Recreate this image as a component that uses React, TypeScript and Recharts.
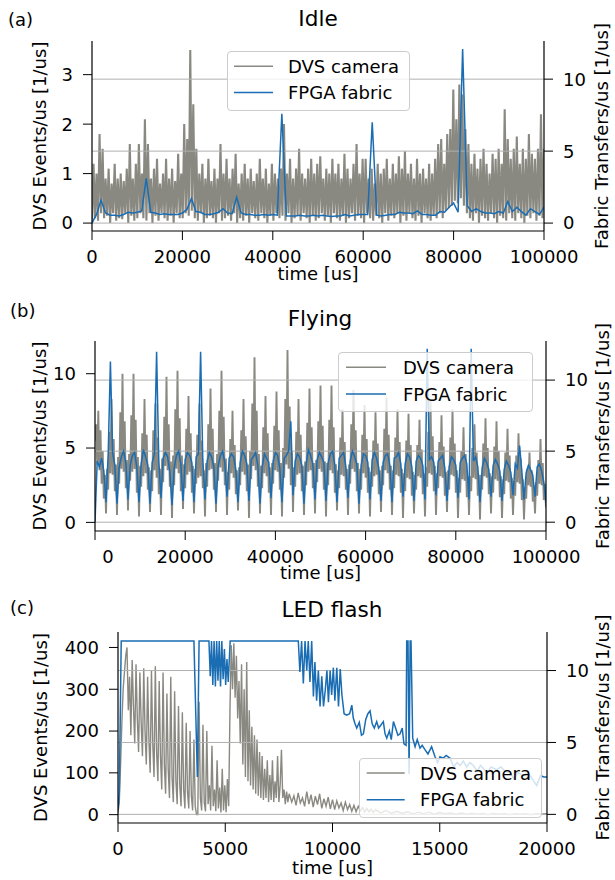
import React from 'react';
import { LineChart, Line, XAxis, YAxis, ReferenceLine } from 'recharts';

const FONT = 'DejaVu Sans, sans-serif';
const GRAY = '#8a8981';
const BLUE = '#1a6db3';
const GRID = '#b0b0b0';

const SERIES_NAMES = ['DVS camera', 'FPGA fabric'];

// (a) Idle, 0..100000 us
const IDLE_X_TICKS = [0, 20000, 40000, 60000, 80000, 100000];
const IDLE_LEFT_TICKS = [0, 1, 2, 3];
const IDLE_DVS = [
  0.0, 1.2, 0.1, 1.0, 0.05, 1.8, 0.2, 1.5, 0.1, 0.9,
  0.15, 1.1, 0.0, 0.8, 0.2, 1.2, 0.05, 0.9, 0.1, 1.0,
  0.08, 0.85, 0.2, 1.1, 0.0, 1.6, 0.15, 0.9, 0.05, 1.2,
  0.1, 1.6, 0.2, 1.0, 0.1, 2.1, 0.05, 1.6, 0.2, 0.9,
  0.0, 1.1, 0.15, 1.3, 0.05, 0.8, 0.2, 1.0, 0.1, 1.3,
  0.05, 0.9, 0.15, 1.1, 0.0, 0.85, 0.2, 1.4, 0.1, 1.0,
  0.1, 2.0, 0.2, 1.7, 0.15, 3.5, 0.25, 2.4, 0.1, 1.5,
  0.05, 1.0, 0.2, 1.2, 0.0, 0.9, 0.1, 1.3, 0.15, 0.85,
  0.1, 1.1, 0.0, 0.9, 0.2, 1.6, 0.05, 1.0, 0.1, 1.3,
  0.15, 0.9, 0.05, 1.1, 0.2, 1.4, 0.0, 0.8, 0.1, 1.0,
  0.05, 1.2, 0.15, 0.9, 0.0, 1.1, 0.2, 0.85, 0.1, 1.0,
  0.05, 1.3, 0.2, 0.9, 0.1, 1.1, 0.0, 0.8, 0.15, 1.2,
  0.05, 1.0, 0.2, 0.9, 0.1, 1.1, 0.15, 2.0, 0.05, 1.0,
  0.2, 1.3, 0.0, 0.9, 0.1, 1.1, 0.15, 1.5, 0.05, 1.0,
  0.2, 0.9, 0.1, 1.1, 0.0, 1.3, 0.15, 1.0, 0.05, 1.2,
  0.1, 1.35, 0.2, 0.9, 0.05, 1.1, 0.15, 1.0, 0.0, 1.3,
  0.2, 1.0, 0.1, 1.2, 0.05, 0.9, 0.15, 1.4, 0.0, 1.1,
  0.1, 0.9, 0.2, 1.2, 0.05, 1.6, 0.15, 1.0, 0.1, 1.3,
  0.0, 1.3, 0.2, 0.9, 0.1, 1.1, 0.05, 0.8, 0.15, 1.2,
  0.1, 1.0, 0.0, 1.1, 0.2, 1.3, 0.05, 0.9, 0.15, 1.2,
  0.1, 1.0, 0.2, 1.35, 0.0, 1.1, 0.15, 1.45, 0.05, 1.0,
  0.2, 1.2, 0.1, 0.9, 0.05, 1.3, 0.15, 1.0, 0.0, 1.1,
  0.2, 0.9, 0.1, 1.2, 0.05, 1.0, 0.15, 1.3, 0.1, 1.6,
  0.2, 1.7, 0.1, 1.2, 0.25, 1.8, 0.3, 1.9, 0.35, 2.7,
  0.45, 2.1, 0.4, 2.8, 0.5, 2.6, 0.35, 1.9, 0.2, 1.6,
  0.1, 1.2, 0.05, 1.4, 0.2, 1.1, 0.0, 1.3, 0.15, 1.5,
  0.1, 1.2, 0.05, 1.0, 0.2, 1.4, 0.1, 1.3, 0.0, 1.5,
  0.15, 1.2, 0.1, 2.3, 0.05, 1.7, 0.2, 1.3, 0.1, 1.5,
  0.05, 1.75, 0.2, 1.2, 0.1, 1.5, 0.0, 1.3, 0.15, 1.8,
  0.1, 1.4, 0.2, 1.3, 0.05, 1.5, 0.15, 2.2, 0.1, 1.5,
];
const IDLE_FPGA = [
  0.0, 0.6, 1.6, 0.7, 0.55, 0.55, 0.5, 0.6, 0.75, 0.7,
  0.75, 0.85, 3.1, 0.75, 0.7, 0.6, 0.65, 0.6, 0.6, 0.6,
  0.7, 0.95, 1.7, 0.8, 0.75, 0.6, 0.6, 0.65, 0.75, 1.0,
  0.7, 0.65, 1.8, 0.7, 0.6, 0.6, 0.55, 0.55, 0.6, 0.55,
  0.6, 0.55, 7.6, 0.5, 0.5, 0.5, 0.55, 0.5, 0.5, 0.55,
  0.5, 0.55, 0.5, 0.45, 0.5, 0.5, 0.6, 0.5, 0.55, 0.6,
  0.6, 0.6, 7.0, 0.55, 0.5, 0.55, 0.6, 0.6, 0.75, 0.7,
  0.7, 0.65, 0.85, 0.6, 0.6, 0.55, 0.55, 0.8, 0.75, 1.1,
  1.4, 0.75, 12.1, 1.2, 0.8, 1.0, 0.8, 0.7, 0.7, 0.65,
  0.8, 0.7, 1.5, 0.8, 1.1, 0.8, 0.55, 1.0, 0.8, 0.6,
  1.1,
];

// (b) Flying, 0..100000 us
const FLY_LEFT_TICKS = [0, 5, 10];
const FLY_DVS = [
  5.5, 6.6, 3.9, 7.5, 3.5, 6.2, 2.6, 4.8, 1.6, 3.2,
  0.6, 3.6, 2.2, 6.1, 3.3, 8.3, 3.2, 5.6, 2.1, 3.9,
  0.5, 4.4, 2.6, 7.4, 3.6, 10.0, 3.4, 6.8, 2.3, 4.2,
  0.8, 4.6, 2.8, 7.2, 3.4, 10.0, 3.6, 6.9, 2.0, 4.4,
  0.4, 3.8, 2.4, 6.0, 3.1, 8.3, 3.3, 5.9, 2.2, 3.7,
  0.7, 3.5, 2.1, 6.2, 3.5, 8.0, 3.0, 5.7, 1.9, 3.6,
  0.5, 4.3, 2.7, 7.1, 3.8, 9.8, 3.5, 6.6, 2.4, 4.1,
  0.3, 4.5, 2.5, 7.6, 3.6, 10.2, 3.3, 7.0, 2.1, 4.5,
  0.9, 3.9, 2.3, 6.3, 3.2, 8.5, 3.4, 6.0, 2.0, 3.8,
  0.6, 3.6, 2.6, 5.9, 3.0, 8.0, 3.1, 5.5, 2.3, 3.5,
  0.4, 4.0, 2.4, 6.6, 3.5, 9.0, 3.6, 6.3, 2.2, 4.0,
  0.7, 4.6, 2.8, 7.5, 3.7, 10.2, 3.4, 7.1, 2.5, 4.3,
  0.5, 3.4, 2.2, 5.6, 3.3, 7.5, 3.0, 5.2, 1.9, 3.5,
  0.8, 3.7, 2.5, 6.2, 3.4, 8.3, 3.2, 5.8, 2.1, 3.9,
  0.3, 4.8, 2.9, 8.0, 3.8, 11.1, 3.5, 7.5, 2.4, 4.6,
  0.6, 3.8, 2.3, 6.4, 3.3, 8.5, 3.1, 6.0, 2.0, 3.7,
  0.5, 4.0, 2.6, 6.5, 3.5, 8.8, 3.4, 6.2, 2.2, 4.0,
  0.4, 5.0, 3.0, 8.3, 3.9, 11.6, 3.6, 7.8, 2.5, 4.7,
  0.7, 3.7, 2.4, 6.1, 3.2, 8.3, 3.3, 5.9, 2.1, 3.8,
  0.5, 4.1, 2.5, 6.7, 3.4, 9.0, 3.5, 6.4, 2.3, 4.0,
  0.6, 4.2, 2.7, 6.8, 3.6, 9.2, 3.4, 6.5, 2.2, 4.1,
  0.4, 4.0, 2.5, 6.9, 3.5, 9.2, 3.3, 6.4, 2.0, 3.9,
  0.8, 3.5, 2.3, 5.7, 3.2, 7.6, 3.1, 5.4, 2.2, 3.6,
  0.5, 3.9, 2.6, 6.6, 3.6, 8.9, 3.4, 6.2, 2.1, 4.0,
  0.6, 3.6, 2.2, 5.9, 3.3, 7.9, 3.0, 5.6, 2.0, 3.7,
  0.4, 3.4, 2.4, 5.5, 3.1, 7.4, 3.2, 5.3, 1.9, 3.5,
  0.7, 3.8, 2.5, 6.3, 3.5, 8.4, 3.3, 5.9, 2.2, 3.8,
  0.5, 3.5, 2.3, 5.7, 3.2, 7.6, 3.1, 5.4, 2.0, 3.6,
  0.3, 3.3, 2.1, 5.5, 3.0, 7.3, 2.9, 5.2, 1.8, 3.4,
  0.6, 3.2, 2.2, 5.2, 3.1, 6.9, 3.0, 4.9, 1.9, 3.3,
  0.4, 3.7, 2.4, 6.1, 3.3, 8.2, 3.2, 5.8, 2.1, 3.8,
  0.5, 3.3, 2.3, 5.4, 3.1, 7.2, 3.0, 5.1, 1.8, 3.4,
  0.7, 3.5, 2.2, 5.7, 3.2, 7.6, 3.1, 5.3, 2.0, 3.5,
  0.3, 3.0, 2.0, 4.8, 2.9, 6.4, 2.8, 4.6, 1.7, 3.1,
  0.5, 3.1, 2.1, 5.0, 3.0, 6.6, 2.9, 4.7, 1.8, 3.2,
  0.2, 3.2, 2.2, 5.3, 3.1, 7.0, 3.0, 5.0, 1.9, 3.3,
  0.6, 3.1, 2.0, 5.1, 2.9, 6.8, 2.8, 4.8, 1.7, 3.1,
  0.3, 2.9, 1.9, 4.7, 2.8, 6.3, 2.7, 4.5, 1.6, 3.0,
  0.5, 2.8, 1.8, 4.5, 2.7, 6.0, 2.6, 4.3, 1.5, 2.9,
  0.2, 2.4, 1.6, 3.6, 2.5, 4.7, 2.4, 3.5, 1.4, 2.5,
  0.6, 2.7, 1.8, 4.2, 2.6, 5.6, 2.5, 4.0, 1.5, 2.6,
  1.0,
];
const FLY_FPGA = [
  0.0, 4.3, 3.9, 4.5, 3.6,
  1.4, 4.8, 11.3, 4.9, 4.0,
  1.3, 3.9, 4.6, 5.0, 4.2,
  1.6, 4.0, 4.7, 4.9, 3.9,
  1.4, 4.1, 5.1, 4.6, 4.0,
  1.3, 4.2, 4.8, 12.0, 4.3,
  1.7, 4.5, 4.9, 4.6, 3.6,
  1.2, 3.8, 4.7, 5.0, 4.1,
  1.5, 4.4, 4.9, 4.7, 4.2,
  1.4, 4.6, 4.8, 12.0, 4.4,
  1.6, 4.3, 4.9, 4.6, 3.9,
  1.3, 4.0, 4.7, 5.0, 4.2,
  1.8, 4.5, 4.8, 4.6, 3.7,
  1.4, 4.2, 5.0, 4.7, 4.1,
  1.5, 4.4, 4.6, 4.9, 4.0,
  1.3, 3.9, 4.8, 4.5, 4.2,
  1.7, 4.3, 4.9, 4.7, 3.8,
  1.4, 4.5, 4.7, 5.0, 7.1,
  1.9, 4.3, 4.8, 4.6, 4.0,
  1.3, 4.1, 5.1, 4.7, 4.1,
  1.6, 4.4, 4.9, 4.6, 4.2,
  1.5, 4.2, 4.8, 5.0, 4.0,
  1.4, 4.5, 4.7, 4.9, 3.9,
  1.7, 4.3, 5.0, 4.6, 4.1,
  1.3, 4.0, 4.8, 4.7, 4.2,
  1.6, 4.4, 4.9, 4.5, 3.8,
  1.5, 4.2, 4.7, 4.8, 4.0,
  1.4, 4.5, 4.6, 4.9, 4.1,
  1.8, 4.1, 4.8, 4.6, 3.9,
  1.5, 4.3, 4.7, 4.5, 4.0,
  1.6, 12.2, 4.4, 4.6, 4.2,
  1.9, 4.3, 4.5, 4.7, 3.8,
  1.5, 3.9, 4.6, 4.4, 4.0,
  1.7, 4.2, 4.5, 4.7, 4.1,
  1.6, 12.2, 4.3, 4.6, 3.9,
  1.4, 3.8, 4.5, 4.2, 3.7,
  1.8, 4.0, 4.4, 4.1, 3.6,
  1.5, 3.7, 4.3, 4.0, 3.5,
  1.9, 4.1, 3.8, 5.4, 3.6,
  1.6, 3.5, 4.0, 3.7, 3.3,
  1.8, 3.9, 4.1, 3.6, 2.8,
  1.4,
];

// (c) LED flash, 0..20000 us
const LED_X_TICKS = [0, 5000, 10000, 15000, 20000];
const LED_LEFT_TICKS = [0, 100, 200, 300, 400];
// DVS samples: 0..7980 every 60 us
const LED_DVS_FAST = [
  5, 30, 120, 220, 300, 340, 380, 400, 250, 330,
  190, 370, 260, 170, 360, 230, 150, 340, 220, 140,
  350, 200, 120, 330, 180, 100, 345, 170, 90, 355,
  150, 80, 320, 140, 60, 340, 120, 50, 290, 110,
  40, 330, 90, 30, 295, 80, 25, 260, 70, 20,
  245, 60, 15, 220, 55, 15, 200, 45, 10, 180,
  20, 0, 0, 270, 40, 10, 215, 30, 8, 200,
  25, 70, 10, 165, 20, 60, 8, 130, 15, 65,
  5, 110, 10, 70, 6, 85, 20, 250, 405, 300,
  410, 280, 380, 230, 320, 170, 360, 120, 300, 90,
  365, 80, 250, 70, 210, 60, 190, 50, 180, 45,
  150, 40, 140, 35, 110, 40, 130, 30, 95, 35,
  130, 30, 80, 40, 140, 30, 70, 155, 40, 60,
  25, 55, 30, 50,
];
// 8100..12000 every 100 us
const LED_DVS_MID = [
  30, 45, 22, 52, 28, 40, 20, 55, 25, 48,
  18, 44, 24, 50, 15, 38, 20, 42, 14, 36,
  12, 33, 16, 28, 10, 30, 12, 24, 8, 22,
  7, 20, 9, 17, 6, 15, 7, 13, 5, 12,
];
// 12250..20000 every 250 us
const LED_DVS_TAIL = [
  4, 10, 3, 8, 3, 7, 2, 6, 2, 6,
  1, 5, 2, 4, 1, 4, 1, 3, 1, 3,
  0, 3, 1, 2, 0, 2, 1, 2, 0, 2,
  1, 2,
];
const LED_FPGA_T = [
  0, 60, 150, 3540, 3700, 3780, 4240,
  4300, 4360, 4420, 4480, 4540, 4600, 4660, 4720, 4780, 4840, 4900, 4960, 5020, 5080, 5140, 5230,
  8406,
  8480, 8560, 8640, 8720, 8800, 8870, 8950, 9030, 9110, 9180,
  9260, 9340, 9420, 9500, 9580, 9660, 9740, 9810, 9890, 9960,
  10040, 10110, 10200, 10280, 10360, 10440, 10540, 10660, 10800, 10900,
  10970, 11050, 11130, 11250, 11350, 11440, 11550, 11650, 11750, 11850,
  11950, 12060, 12150, 12250, 12370, 12450, 12530, 12650, 12740, 12840,
  12940, 13050, 13150, 13250, 13330, 13430, 13460, 13520, 13570, 13620,
  13660, 13740, 13850, 13950, 14080, 14180, 14310, 14450, 14620, 14780,
  14900, 15010, 15150, 15300, 15480, 15650, 15800, 15950, 16100, 16250,
  16400, 16570, 16750, 16900, 17030, 17200, 17400, 17650, 17850, 18050,
  18280, 18450, 18650, 18900, 19100, 19300, 19520, 19700, 19850, 20000,
];
const LED_FPGA = [
  0.3, 1.5, 12.05, 12.05, 2.6, 12.05, 12.05,
  9.6, 12.05, 9.0, 12.05, 8.9, 12.05, 9.3, 12.05, 8.9, 12.05, 9.4, 11.5, 9.0, 10.8, 9.2, 12.05,
  12.05,
  9.9, 12.05, 9.1, 12.05, 10.0, 12.05, 9.2, 12.05, 8.2, 10.6,
  7.9, 10.0, 7.5, 9.6, 7.5, 8.6, 10.0, 7.8, 10.0, 8.3,
  10.2, 7.9, 10.2, 7.5, 10.1, 8.3, 7.0, 6.9, 7.0, 7.6,
  6.7, 6.3, 6.0, 6.4, 5.5, 5.6, 6.6, 7.0, 7.2, 6.3,
  6.0, 6.45, 6.0, 6.2, 6.45, 5.6, 5.3, 5.8, 5.2, 6.45,
  6.0, 5.5, 5.6, 6.0, 4.9, 4.8, 12.05, 12.05, 2.8, 12.05,
  12.05, 5.3, 4.7, 5.2, 4.6, 4.8, 4.5, 4.2, 4.7, 4.0,
  3.6, 4.0, 3.9, 4.1, 3.9, 3.3, 3.6, 3.4, 3.7, 3.3,
  3.6, 3.4, 3.0, 3.4, 3.2, 2.9, 3.3, 3.1, 3.3, 3.0,
  2.9, 2.5, 2.9, 2.7, 2.9, 2.5, 2.0, 2.7, 2.6, 2.6,
];

const RIGHT_TICKS = [0, 5, 10];

// evenly sampled values between start and end time
const spread = (values: number[], start: number, end: number) =>
  values.map((v, i) => ({ t: start + (i * (end - start)) / (values.length - 1), v }));

const idleDvs = spread(IDLE_DVS, 0, 100000);
const idleFpga = spread(IDLE_FPGA, 0, 100000);
const flyDvs = spread(FLY_DVS, 0, 100000);
const flyFpga = spread(FLY_FPGA, 0, 100000);
const ledDvs = [
  ...spread(LED_DVS_FAST, 0, 7980),
  ...spread(LED_DVS_MID, 8100, 12000),
  ...spread(LED_DVS_TAIL, 12250, 20000),
];
const ledFpga = LED_FPGA_T.map((t, i) => ({ t, v: LED_FPGA[i] }));

const AXIS_LINE = { stroke: '#000', strokeWidth: 1.2 };
const TICK = { fill: '#000', fontSize: 18, fontFamily: FONT };

const FlyTick = (props: any) => {
  const { x, y, payload } = props;
  // the "0" label sits a bit right of its tick in the original
  const shift = payload.value === 0 ? 13 : 0;
  return (
    <text x={x + shift} y={y} dy="0.71em" textAnchor="middle" fill="#000" fontSize={18} fontFamily={FONT}>
      {payload.value}
    </text>
  );
};

interface PanelSpec {
  top: number;
  height: number;
  marginTop: number;
  xAxisH: number;
  leftW: number;
  rightW: number;
  xDomain: [number, number];
  xTicks: number[];
  leftDomain: [number, number];
  leftTicks: number[];
  rightDomain: [number, number];
  dvs: { t: number; v: number }[];
  fpga: { t: number; v: number }[];
  xLabelOffset: number;
  leftLabelOffset: number;
  rightLabelOffset: number;
  grayWidth: number;
  customTick?: boolean;
}

function Panel(p: PanelSpec) {
  return (
    <div style={{ position: 'absolute', left: 0, top: p.top }}>
      <LineChart width={615} height={p.height} margin={{ top: p.marginTop, right: 0, bottom: 0, left: 0 }}>
        <XAxis
          xAxisId="top"
          orientation="top"
          type="number"
          domain={p.xDomain}
          allowDataOverflow
          height={0}
          tick={false}
          tickLine={false}
          axisLine={AXIS_LINE}
        />
        <XAxis
          type="number"
          dataKey="t"
          domain={p.xDomain}
          allowDataOverflow
          ticks={p.xTicks}
          height={p.xAxisH}
          tickSize={9}
          tickMargin={10}
          tick={p.customTick ? <FlyTick /> : TICK}
          tickLine={{ stroke: '#000' }}
          axisLine={AXIS_LINE}
          label={{ value: 'time [us]', position: 'insideBottom', offset: p.xLabelOffset, fill: '#000', fontSize: 18, fontFamily: FONT }}
        />
        <YAxis
          yAxisId="left"
          type="number"
          domain={p.leftDomain}
          allowDataOverflow
          ticks={p.leftTicks}
          width={p.leftW}
          tickSize={9}
          tickMargin={10}
          tick={TICK}
          tickLine={{ stroke: '#000' }}
          axisLine={AXIS_LINE}
          label={{ value: 'DVS Events/us [1/us]', angle: -90, position: 'insideLeft', offset: p.leftLabelOffset, fill: '#000', fontSize: 18, fontFamily: FONT, style: { textAnchor: 'middle' } }}
        />
        <YAxis
          yAxisId="right"
          orientation="right"
          type="number"
          domain={p.rightDomain}
          allowDataOverflow
          ticks={RIGHT_TICKS}
          width={p.rightW}
          tickSize={9}
          tickMargin={10}
          tick={TICK}
          tickLine={{ stroke: '#000' }}
          axisLine={AXIS_LINE}
          label={{ value: 'Fabric Transfers/us [1/us]', angle: -90, position: 'insideRight', offset: p.rightLabelOffset, fill: '#000', fontSize: 18, fontFamily: FONT, style: { textAnchor: 'middle' } }}
        />
        <Line
          yAxisId="left"
          data={p.dvs}
          dataKey="v"
          type="linear"
          stroke={GRAY}
          strokeWidth={p.grayWidth}
          strokeLinejoin="miter"
          dot={false}
          isAnimationActive={false}
        />
        {RIGHT_TICKS.map((y) => (
          <ReferenceLine key={y} yAxisId="right" y={y} stroke={GRID} strokeWidth={1} />
        ))}
        <Line
          yAxisId="right"
          data={p.fpga}
          dataKey="v"
          type="linear"
          stroke={BLUE}
          strokeWidth={1.5}
          dot={false}
          isAnimationActive={false}
        />
      </LineChart>
    </div>
  );
}

interface LegendSpec {
  left: number;
  top: number;
  width: number;
  height: number;
  row0: number;
  rowGap: number;
  sampleX: number;
  sampleW: number;
  textX: number;
}

function LegendBox({ box }: { box: LegendSpec }) {
  const colors = [GRAY, BLUE];
  return (
    <div
      style={{
        position: 'absolute',
        left: box.left,
        top: box.top,
        width: box.width,
        height: box.height,
        boxSizing: 'border-box',
        border: '1px solid #cccccc',
        borderRadius: 4,
        background: 'rgba(255,255,255,0.8)',
      }}
    >
      <svg width={box.width - 2} height={box.height - 2} style={{ display: 'block' }}>
        {SERIES_NAMES.map((name, i) => {
          const cy = box.row0 + i * box.rowGap;
          return (
            <g key={name}>
              <line x1={box.sampleX} x2={box.sampleX + box.sampleW} y1={cy} y2={cy} stroke={colors[i]} strokeWidth={1.5} />
              <text x={box.textX} y={cy + 6.5} fontSize={18} fontFamily={FONT} fill="#000">
                {name}
              </text>
            </g>
          );
        })}
      </svg>
    </div>
  );
}

export default function App() {
  return (
    <div style={{ position: 'absolute', left: 0, top: 0, width: 615, height: 880, background: '#fff', fontFamily: FONT }}>
      <Panel
        top={0}
        height={300}
        marginTop={41}
        xAxisH={69}
        leftW={92}
        rightW={71}
        xDomain={[0, 100000]}
        xTicks={IDLE_X_TICKS}
        leftDomain={[-0.16, 3.68]}
        leftTicks={IDLE_LEFT_TICKS}
        rightDomain={[-0.55, 12.65]}
        dvs={idleDvs}
        fpga={idleFpga}
        xLabelOffset={20}
        leftLabelOffset={40}
        rightLabelOffset={13}
        grayWidth={2.1}
      />
      <Panel
        top={300}
        height={290}
        marginTop={41}
        xAxisH={59}
        leftW={95}
        rightW={69}
        xDomain={[0, 100000]}
        xTicks={IDLE_X_TICKS}
        leftDomain={[-0.58, 12.2]}
        leftTicks={FLY_LEFT_TICKS}
        rightDomain={[-0.62, 12.75]}
        dvs={flyDvs}
        fpga={flyFpga}
        xLabelOffset={11}
        leftLabelOffset={40}
        rightLabelOffset={12}
        grayWidth={1.9}
        customTick
      />
      <Panel
        top={590}
        height={290}
        marginTop={42}
        xAxisH={57}
        leftW={118}
        rightW={68}
        xDomain={[0, 20000]}
        xTicks={LED_X_TICKS}
        leftDomain={[-20, 437]}
        leftTicks={LED_LEFT_TICKS}
        rightDomain={[-0.6, 12.68]}
        dvs={ledDvs}
        fpga={ledFpga}
        xLabelOffset={6}
        leftLabelOffset={41}
        rightLabelOffset={12}
        grayWidth={1.4}
      />
      <svg width={615} height={880} style={{ position: 'absolute', left: 0, top: 0, pointerEvents: 'none' }}>
        <text x={8} y={26} fontSize={18} fontFamily={FONT} fill="#000">(a)</text>
        <text x={318} y={26} fontSize={21.6} fontFamily={FONT} fill="#000" textAnchor="middle">Idle</text>
        <text x={10} y={317} fontSize={18} fontFamily={FONT} fill="#000">(b)</text>
        <text x={320} y={326} fontSize={21.6} fontFamily={FONT} fill="#000" textAnchor="middle">Flying</text>
        <text x={10} y={614} fontSize={18} fontFamily={FONT} fill="#000">(c)</text>
        <text x={332} y={617} fontSize={21.6} fontFamily={FONT} fill="#000" textAnchor="middle">LED flash</text>
      </svg>
      <LegendBox box={{ left: 227, top: 51, width: 183, height: 60, row0: 14.3, rowGap: 26.3, sampleX: 6, sampleW: 39, textX: 60 }} />
      <LegendBox box={{ left: 338, top: 352, width: 195, height: 60, row0: 14.3, rowGap: 26.7, sampleX: 7, sampleW: 40, textX: 64 }} />
      <LegendBox box={{ left: 359, top: 758, width: 183, height: 60, row0: 14, rowGap: 26.7, sampleX: 6.7, sampleW: 38, textX: 60 }} />
    </div>
  );
}
